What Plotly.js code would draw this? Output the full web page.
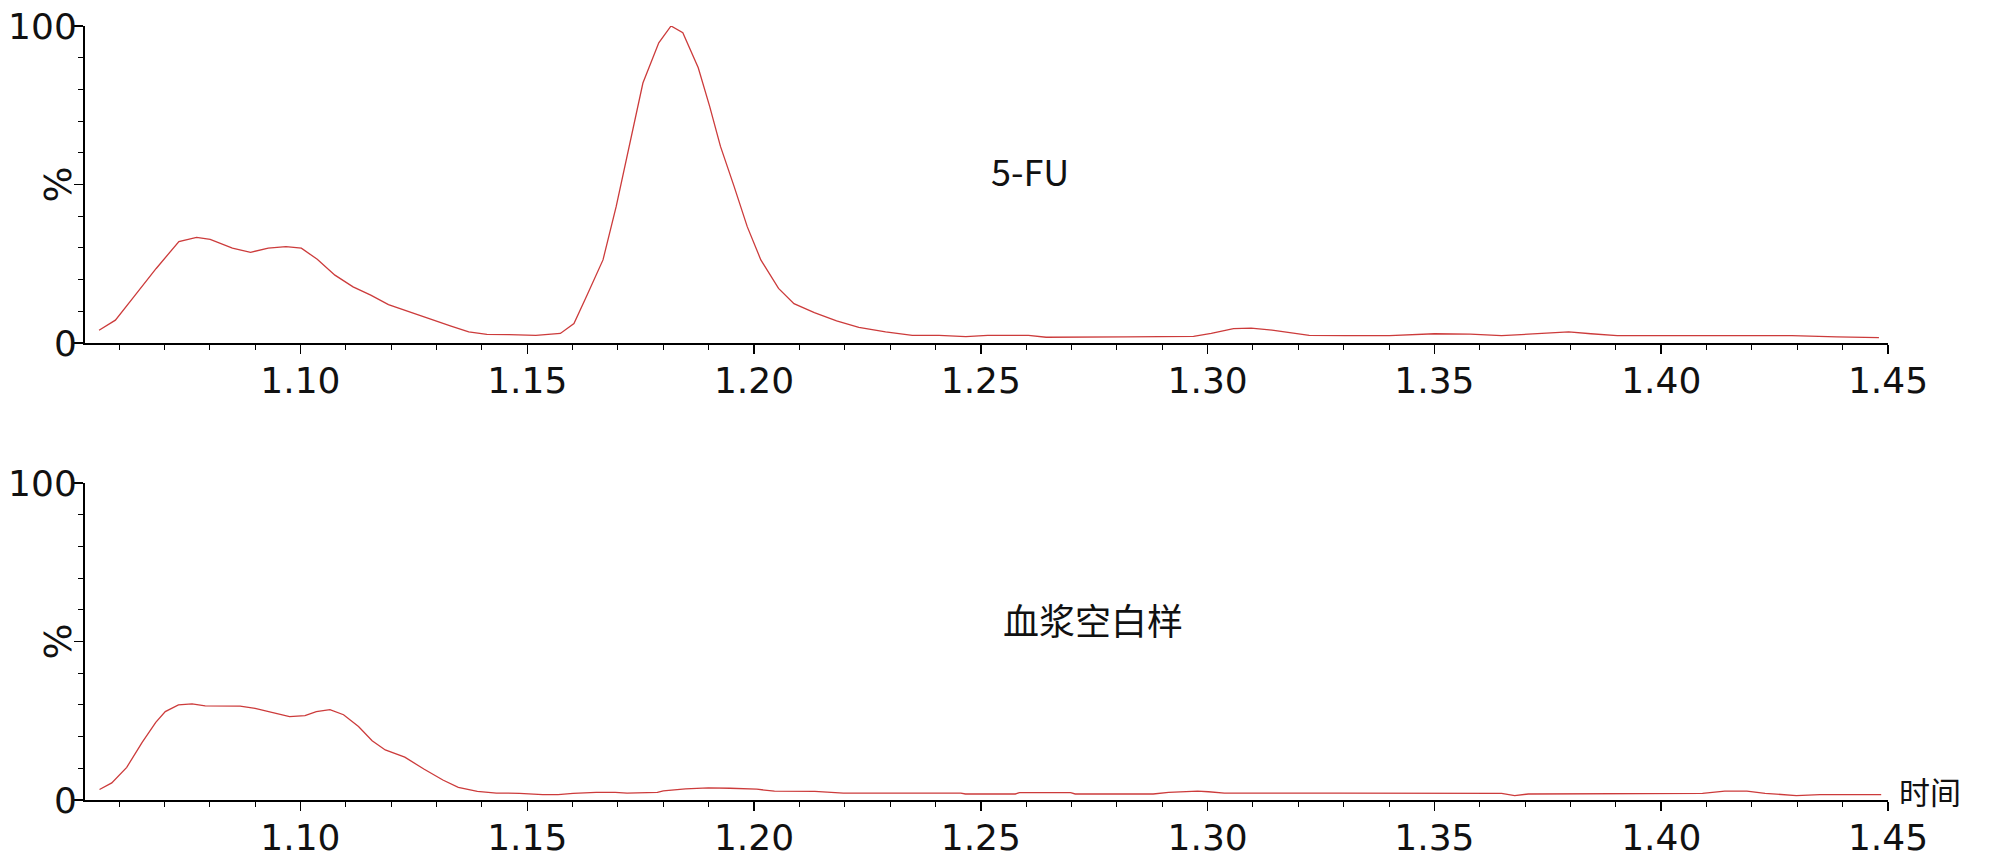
<!DOCTYPE html>
<html>
<head>
<meta charset="utf-8">
<script src="https://cdn.plot.ly/plotly-3.0.1.min.js"></script>
<style>
  body { margin: 0; background: #ffffff; }
  #chart { width: 2000px; height: 863px; }
</style>
</head>
<body>
<div id="chart"></div>
<script>
// 5-FU sample trace (time, %)
const timeTop = [1.0556, 1.0592, 1.0633, 1.0682, 1.0732, 1.0771, 1.0801, 1.0850, 1.0890, 1.0929,
    1.0968, 1.1002, 1.1037, 1.1076, 1.1116, 1.1155, 1.1194, 1.1253, 1.1293, 1.1332,
    1.1371, 1.1411, 1.1460, 1.1519, 1.1573, 1.1603, 1.1632, 1.1667, 1.1696, 1.1726,
    1.1755, 1.1790, 1.1817, 1.1843, 1.1877, 1.1902, 1.1926, 1.1956, 1.1985, 1.2015,
    1.2054, 1.2088, 1.2133, 1.2182, 1.2231, 1.2290, 1.2349, 1.2408, 1.2467, 1.2515,
    1.2605, 1.2644, 1.2742, 1.2821, 1.2969, 1.3008, 1.3057, 1.3096, 1.3146, 1.3200,
    1.3224, 1.3303, 1.3401, 1.3500, 1.3579, 1.3648, 1.3727, 1.3796, 1.3845, 1.3903,
    1.3992, 1.4091, 1.4150, 1.4288, 1.4387, 1.4480];
const pctTop = [4.0, 7.2, 14.6, 23.5, 32.0, 33.3, 32.7, 29.9, 28.6, 29.9,
    30.4, 29.9, 26.4, 21.4, 17.7, 15.1, 12.1, 9.1, 7.2, 5.3,
    3.5, 2.7, 2.6, 2.4, 3.0, 6.1, 15.1, 26.2, 43, 63,
    82, 94.7, 100, 97.9, 86.8, 74.7, 62, 49.4, 36.7, 26.2,
    17.2, 12.4, 9.6, 7.0, 4.9, 3.5, 2.4, 2.4, 2.0, 2.4,
    2.4, 1.8, 1.8, 1.9, 2.1, 3.0, 4.5, 4.7, 4.0, 3.0,
    2.4, 2.3, 2.3, 2.9, 2.8, 2.3, 2.9, 3.5, 2.9, 2.3,
    2.3, 2.3, 2.1, 2.3, 1.9, 1.7];

// blank plasma trace (time, %)
const timeBlank = [1.0557, 1.0584, 1.0617, 1.0651, 1.0681, 1.0702, 1.0731, 1.0761, 1.0790, 1.0833,
    1.0867, 1.0900, 1.0943, 1.0976, 1.1010, 1.1035, 1.1065, 1.1095, 1.1128, 1.1158,
    1.1187, 1.1230, 1.1272, 1.1314, 1.1348, 1.1390, 1.1432, 1.1483, 1.1534, 1.1568,
    1.1601, 1.1652, 1.1694, 1.1720, 1.1787, 1.1800, 1.1849, 1.1899, 1.1947, 1.2006,
    1.2045, 1.2134, 1.2197, 1.2340, 1.2456, 1.2466, 1.2576, 1.2585, 1.2698, 1.2708,
    1.2880, 1.2914, 1.2978, 1.3002, 1.3037, 1.3290, 1.3648, 1.3677, 1.3707, 1.4091,
    1.4140, 1.4189, 1.4229, 1.4298, 1.4350, 1.4485];
const pctBlank = [3.3, 5.4, 10.3, 18.2, 24.5, 27.9, 30.0, 30.3, 29.7, 29.7,
    29.6, 28.9, 27.4, 26.3, 26.6, 27.9, 28.5, 26.9, 23.2, 18.7,
    15.8, 13.5, 9.8, 6.3, 4.0, 2.7, 2.2, 2.1, 1.7, 1.7,
    2.1, 2.4, 2.4, 2.2, 2.4, 2.9, 3.5, 3.8, 3.7, 3.4,
    2.8, 2.7, 2.2, 2.2, 2.2, 1.9, 1.9, 2.3, 2.3, 1.9,
    1.9, 2.4, 2.8, 2.6, 2.2, 2.2, 2.1, 1.4, 1.9, 2.1,
    2.8, 2.8, 2.1, 1.4, 1.7, 1.7];

const xTickVals = [1.10, 1.15, 1.20, 1.25, 1.30, 1.35, 1.40, 1.45];
const xTickText = ['1.10', '1.15', '1.20', '1.25', '1.30', '1.35', '1.40', '1.45'];
const yTickVals = [0, 50, 100];
const yTickText = ['0', '', '100'];

const lineColor = '#cc3b3b';
const tickFont = {family: 'DejaVu Sans, Verdana, sans-serif', size: 36, color: '#111111'};

// minor tick positions
let xMinor = [];
for (let i = 106; i <= 145; i++) {
    if (i % 5 !== 0) xMinor.push(i / 100);
}
let yMinor = [];
for (let v = 10; v < 100; v += 10) {
    if (v !== 50) yMinor.push(v);
}

const makeX = (anchor) => {
    return {
        domain: [0.0425, 0.944],
        range: [1.0525, 1.45],
        anchor: anchor,
        showline: true,
        linecolor: '#000000',
        linewidth: 2,
        showgrid: false,
        zeroline: false,
        ticks: 'outside',
        ticklen: 9,
        tickwidth: 1.5,
        tickcolor: '#000000',
        tickmode: 'array',
        tickvals: xTickVals,
        ticktext: xTickText,
        tickfont: tickFont,
        ticklabelstandoff: -4,
        minor: {tickmode: 'array', tickvals: xMinor, ticks: 'outside', ticklen: 5, tickwidth: 1, tickcolor: '#000000', showgrid: false}
    }
}

const makeY = (domain, anchor) => {
    return {
        domain: domain,
        range: [0, 100],
        anchor: anchor,
        showline: true,
        linecolor: '#000000',
        linewidth: 2,
        showgrid: false,
        zeroline: false,
        ticks: 'outside',
        ticklen: 9,
        tickwidth: 1.5,
        tickcolor: '#000000',
        tickmode: 'array',
        tickvals: yTickVals,
        ticktext: yTickText,
        tickfont: tickFont,
        ticklabelstandoff: -10,
        minor: {tickmode: 'array', tickvals: yMinor, ticks: 'outside', ticklen: 5, tickwidth: 1, tickcolor: '#000000', showgrid: false}
    }
}

const traces = [
    {x: timeTop, y: pctTop, xaxis: 'x', yaxis: 'y', type: 'scatter', mode: 'lines',
        line: {color: lineColor, width: 1.3}, hoverinfo: 'skip'},
    {x: timeBlank, y: pctBlank, xaxis: 'x2', yaxis: 'y2', type: 'scatter', mode: 'lines',
        line: {color: lineColor, width: 1.3}, hoverinfo: 'skip'}
];

const labelFont = {family: 'Noto Sans CJK SC, sans-serif', size: 36, color: '#111111'};
const pctFont = {family: 'DejaVu Sans, sans-serif', size: 38, color: '#111111'};

const layout = {
    width: 2000,
    height: 863,
    margin: {l: 0, r: 0, t: 0, b: 0},
    paper_bgcolor: '#ffffff',
    plot_bgcolor: '#ffffff',
    showlegend: false,
    xaxis: makeX('y'),
    yaxis: makeY([0.6026, 0.9699], 'x'),
    xaxis2: makeX('y2'),
    yaxis2: makeY([0.073, 0.4403], 'x2'),
    annotations: [
        {text: '%', xref: 'paper', yref: 'y', x: 0.029, y: 50, xanchor: 'center', yanchor: 'middle',
            textangle: -90, showarrow: false, font: pctFont},
        {text: '%', xref: 'paper', yref: 'y2', x: 0.029, y: 50, xanchor: 'center', yanchor: 'middle',
            textangle: -90, showarrow: false, font: pctFont},
        {text: '5-FU', xref: 'x', yref: 'y', x: 1.2608, y: 54.5, showarrow: false, font: labelFont},
        {text: '血浆空白样', xref: 'x2', yref: 'y2', x: 1.2748, y: 57, showarrow: false, font: labelFont},
        {text: '时间', xref: 'paper', yref: 'y2', x: 0.9485, y: 3, xanchor: 'left', showarrow: false,
            font: {family: 'Noto Sans CJK SC, sans-serif', size: 31, color: '#111111'}}
    ]
}

const config = {staticPlot: true};

Plotly.newPlot('chart', traces, layout, config);
</script>
</body>
</html>
